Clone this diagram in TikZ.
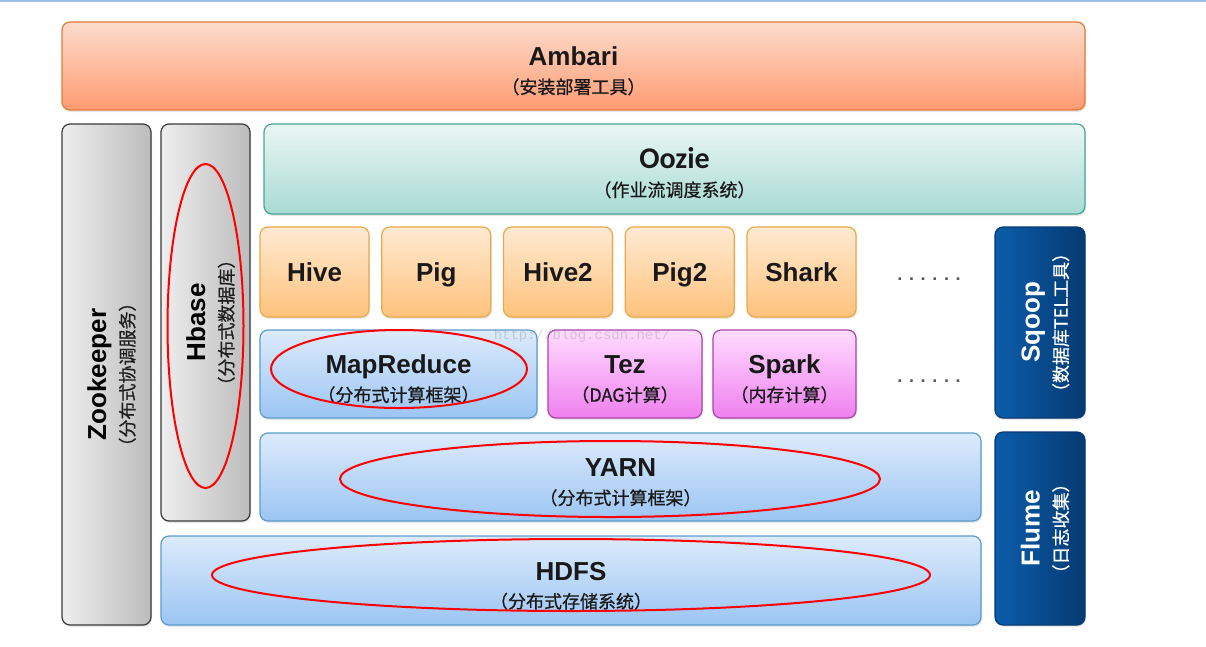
\documentclass[tikz,border=0pt]{standalone}
\usepackage{fontspec}
\setmainfont{Liberation Sans}
\setmonofont{Liberation Mono}
\newfontfamily\cjk[FakeBold=0.7]{Noto Sans CJK SC}
\newfontfamily\ooziefont{Carlito}
\usepackage{xcolor}
\definecolor{ambaritop}{HTML}{FDDCCD}
\definecolor{ambaribot}{HTML}{FF9B72}
\definecolor{ambariline}{HTML}{E07B39}
\definecolor{graylight}{HTML}{EEEEEE}
\definecolor{graydark}{HTML}{BCBCBC}
\definecolor{grayline}{HTML}{3A3A3A}
\definecolor{oozietop}{HTML}{EAF6F4}
\definecolor{ooziebot}{HTML}{A8DBD3}
\definecolor{oozieline}{HTML}{4AA39A}
\definecolor{apptop}{HTML}{FFEAD2}
\definecolor{appbot}{HTML}{FFC27C}
\definecolor{appline}{HTML}{E9A94A}
\definecolor{bluetop}{HTML}{DDEBFC}
\definecolor{bluebot}{HTML}{9BC5F3}
\definecolor{blueline}{HTML}{5B9CC9}
\definecolor{pinktop}{HTML}{FFDCFF}
\definecolor{pinkbot}{HTML}{EF80EF}
\definecolor{pinkline}{HTML}{A844A8}
\definecolor{navyleft}{HTML}{0C5DAB}
\definecolor{navyright}{HTML}{053A72}
\definecolor{subgray}{HTML}{1E1E1E}
\definecolor{topblue}{HTML}{9DBDE2}
\usepackage{tikz}
\usetikzlibrary{shadows, calc}

\newcommand{\subtxt}[1]{{\cjk\mdseries\fontsize{18}{22}\selectfont #1}}
\newcommand{\lift}{\rule{0pt}{29pt}}

\begin{document}
\begin{tikzpicture}[
        x=1pt, y=-1pt,
        layer/.style={rectangle, rounded corners=8pt, inner sep=0pt, outer sep=0pt, align=center, line width=1.2pt, font=\fontsize{26}{28}\selectfont\bfseries, text=black!90,
            drop shadow={opacity=0.18, shadow xshift=1pt, shadow yshift=-2pt}},
        ambaribox/.style={layer, draw=ambariline, top color=ambaritop, bottom color=ambaribot},
        graybox/.style={layer, draw=grayline, left color=graylight, right color=graydark},
        ooziebox/.style={layer, draw=oozieline, top color=oozietop, bottom color=ooziebot},
        appbox/.style={layer, draw=appline, top color=apptop, bottom color=appbot, minimum width=109, minimum height=90, text height=18.6pt, text depth=0pt},
        bluebox/.style={layer, draw=blueline, top color=bluetop, bottom color=bluebot},
        pinkbox/.style={layer, draw=pinkline, top color=pinktop, bottom color=pinkbot},
        navybox/.style={layer, draw=navyright, left color=navyleft, right color=navyright},
        vtext/.style={rotate=90, align=center, inner sep=0pt, font=\fontsize{26}{28}\selectfont\bfseries},
        dots/.style={font=\fontsize{18}{18}\selectfont\bfseries, text=black!65},
        ring/.style={draw=red, line width=2pt},
        watermark/.style={font=\ttfamily\fontsize{14}{14}\selectfont, text=gray, opacity=0.3}
    ]
        \useasboundingbox (0,0) rectangle (1206,646);
        \fill[white] (0,0) rectangle (1206,646);
        \draw[topblue, line width=2pt] (0,1) -- (1206,1);

        % top and left columns
        \node[ambaribox, minimum width=1023, minimum height=88] (ambari) at (573.5,66) {\lift Ambari\\\subtxt{（安装部署工具）}};
        \node[graybox, minimum width=89, minimum height=501] (zookeeper) at (106.5,374.5) {};
        \node[vtext] (zktext) at (zookeeper.center) {\lift Zookeeper\\\subtxt{\color{subgray}（分布式协调服务）}};
        \node[graybox, minimum width=89, minimum height=397] (hbase) at (205.5,322.5) {};
        \node[vtext] (hbtext) at (hbase.center) {\lift Hbase\\\subtxt{\color{subgray}（分布式数据库）}};

        \node[ooziebox, minimum width=821, minimum height=90] (oozie) at (674.5,169) {\lift{\ooziefont\fontsize{30}{28}\selectfont Oozie}\\\subtxt{（作业流调度系统）}};

        % tools row
        \foreach \name/\txt [count=\i from 0] in {hive/Hive, pig/Pig, hivetwo/Hive2, pigtwo/Pig2, shark/Shark} {
            \node[appbox] (\name) at (314.5+121.75*\i,272) {\txt};
        }
        \node[dots] (dotsone) at (929,279) {. . . . . .};

        % engines row
        \node[bluebox, minimum width=277, minimum height=88] (mapreduce) at (398.5,374) {\lift MapReduce\\\subtxt{（分布式计算框架）}};
        \node[pinkbox, minimum width=154, minimum height=88] (tez) at (625,374) {\lift Tez\\\subtxt{（DAG计算）}};
        \node[pinkbox, minimum width=143, minimum height=88] (spark) at (784.5,374) {\lift Spark\\\subtxt{（内存计算）}};
        \node[dots] (dotstwo) at (929,381) {. . . . . .};

        \node[bluebox, minimum width=721, minimum height=88] (yarn) at (620.5,477) {\lift YARN\\\subtxt{（分布式计算框架）}};
        \node[bluebox, minimum width=820, minimum height=89] (hdfs) at (571,580.5) {\lift HDFS\\\subtxt{（分布式存储系统）}};

        % right column
        \node[navybox, minimum width=90, minimum height=191] (sqoop) at (1040,322.5) {};
        \node[vtext, text=white] (sqtext) at (sqoop.center) {\lift Sqoop\\\subtxt{（数据库TEL工具）}};
        \node[navybox, minimum width=90, minimum height=193] (flume) at (1040,528.5) {};
        \node[vtext, text=white] (fltext) at (flume.center) {\lift Flume\\\subtxt{（日志收集）}};

        \node[watermark] (mark) at (582,336) {http://blog.csdn.net/};

        % red marks
        \draw[ring] ($(hbase.center)+(0,3.5)$) ellipse [x radius=38, y radius=162];
        \draw[ring] ($(mapreduce.center)+(0.5,-5)$) ellipse [x radius=128, y radius=39];
        \draw[ring] ($(yarn.center)+(-10.5,2)$) ellipse [x radius=270, y radius=38];
        \draw[ring] ($(hdfs.center)+(0,-5.5)$) ellipse [x radius=359, y radius=36];
    \end{tikzpicture}
\end{document}
